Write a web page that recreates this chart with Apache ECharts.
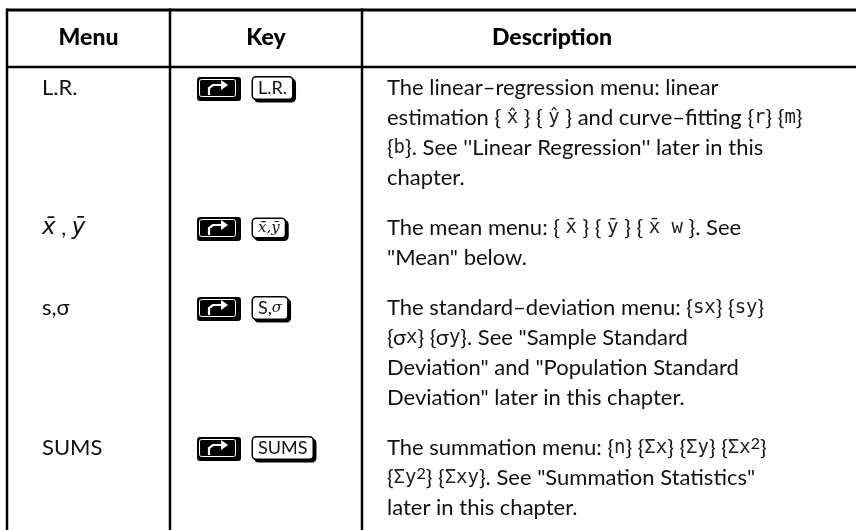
<!DOCTYPE html>
<html><head><meta charset="utf-8">
<script src="https://cdn.jsdelivr.net/npm/echarts@6/dist/echarts.min.js"></script>
<style>html,body{margin:0;padding:0;background:#fff}#c{width:856px;height:530px}</style>
</head><body><div id="c"></div>
<script>
// ---- data ----
const headers = ['Menu', 'Key', 'Description'];
const menus = ['L.R.', '*x\u0304* , *y\u0304*', 's,\u03c3', 'SUMS'];
const keyLabels = ['L.R.', '*x\u0304,y\u0304*', 'S,*\u03c3*', 'SUMS'];
const descriptions = [
  ['The linear\u2013regression menu: linear',
   'estimation { [x\u0302] } { [\u0177] } and curve\u2013fitting {[r]} {[m]}',
   "{[b]}. See ''Linear Regression'' later in this",
   'chapter.'],
  ['The mean menu: { [x\u0304] } { [y\u0304] } { [x\u0304 w] }. See',
   '"Mean" below.'],
  ['The standard\u2013deviation menu: {[sx]} {[sy]}',
   '{\u03c3[x]} {\u03c3[y]}. See "Sample Standard',
   'Deviation" and "Population Standard',
   'Deviation" later in this chapter.'],
  ['The summation menu: {[n]} {[\u03a3x]} {[\u03a3y]} {[\u03a3x]^2}',
   '{[\u03a3y]^2} {[\u03a3xy]}. See "Summation Statistics"',
   'later in this chapter.']
];

// ---- layout ----
const W = 856, H = 530;
const LINE = 30, GAP = 20, FIRST = 88;
const X_LEFT = 7, X_D1 = 170, X_D2 = 362;
const MENU_X = 42, SHIFT_X = 197, KEY_X = 253, DESC_X = 387;
const TOP_Y = 10, HEAD_Y = 38, HEAD_LINE_Y = 67;
const FONT = 'Lato, "Open Sans", sans-serif';
const FS = 22;

const rowY = [];
(function () { let y = FIRST; descriptions.forEach(d => { rowY.push(y); y += d.length * LINE + GAP; }); })();

function richify(s) {
  return s.replace(/\[([^\]]+)\]/g, '{g|$1}')
          .replace(/\^2/g, '{sup|2}')
          .replace(/\*([^*]+)\*/g, '{i|$1}');
}
const RICH = {
  g: { fontFamily: '"DejaVu Sans Mono", monospace', fontSize: 19, fill: '#222' },
  sup: { fontFamily: FONT, fontSize: 16, fill: '#111', padding: [0, 0, 9, 0] },
  i: { fontFamily: '"DejaVu Sans", sans-serif', fontStyle: 'italic', fontSize: 23, fill: '#111' }
};
const KEY_RICH = {
  i: { fontFamily: '"DejaVu Serif", serif', fontStyle: 'italic', fontSize: 15, fill: '#111' }
};

function renderItem(params, api) {
  const i = api.value(2);
  const y0 = api.value(1);
  const P = (x) => api.coord([x, y0]);
  const children = [];
  // menu cell
  const m = P(MENU_X);
  children.push({ type: 'text', x: m[0], y: m[1], style: {
    text: richify(menus[i]), rich: RICH, fontFamily: FONT, fontSize: FS, fill: '#111',
    textAlign: 'left', verticalAlign: 'middle' } });
  // shift key
  const s = P(SHIFT_X);
  const sx = s[0], sy = s[1];
  children.push({ type: 'rect', shape: { x: sx, y: sy - 11, width: 44, height: 24, r: 3 }, style: { fill: '#000' } });
  children.push({ type: 'rect', shape: { x: sx + 2.5, y: sy - 8.5, width: 36, height: 17, r: 2 }, style: { fill: 'none', stroke: '#fff', lineWidth: 1 } });
  children.push({ type: 'polyline', shape: { points: [[sx + 12, sy + 7], [sx + 12, sy], [sx + 16, sy - 3], [sx + 25, sy - 3]] },
    style: { stroke: '#fff', lineWidth: 2.2, fill: 'none' } });
  children.push({ type: 'polygon', shape: { points: [[sx + 24, sy - 8], [sx + 31, sy - 3], [sx + 24, sy + 2]] }, style: { fill: '#fff' } });
  // label key
  const k = P(KEY_X);
  children.push({ type: 'text', x: k[0], y: k[1], style: {
    text: richify(keyLabels[i]), rich: KEY_RICH, fontFamily: FONT, fontSize: 18, fill: '#111',
    textAlign: 'left', verticalAlign: 'middle',
    backgroundColor: '#fff', borderColor: '#000', borderWidth: 1.5, borderRadius: 3,
    padding: [2, 5, 1, 5], shadowColor: '#000', shadowOffsetX: 2.5, shadowOffsetY: 2.5, shadowBlur: 0 } });
  // description lines
  descriptions[i].forEach((line, j) => {
    const d = api.coord([DESC_X, y0 + j * LINE]);
    children.push({ type: 'text', x: d[0], y: d[1], style: {
      text: richify(line), rich: RICH, fontFamily: FONT, fontSize: FS, fill: '#111',
      textAlign: 'left', verticalAlign: 'middle' } });
  });
  return { type: 'group', children };
}

const rules = [
  { type: 'line', shape: { x1: X_LEFT, y1: TOP_Y, x2: W, y2: TOP_Y }, style: { stroke: '#000', lineWidth: 3 } },
  { type: 'line', shape: { x1: X_LEFT, y1: HEAD_LINE_Y, x2: W, y2: HEAD_LINE_Y }, style: { stroke: '#000', lineWidth: 2.5 } },
  ...[X_LEFT, X_D1, X_D2].map(x => ({ type: 'line', shape: { x1: x, y1: TOP_Y - 1.5, x2: x, y2: H }, style: { stroke: '#000', lineWidth: 2.5 } }))
];
const headCenters = [(X_LEFT + X_D1) / 2, (X_D1 + X_D2) / 2, 552];
const headTexts = headers.map((h, i) => ({ type: 'text', x: headCenters[i], y: HEAD_Y,
  style: { text: h, fontFamily: FONT, fontWeight: 900, fontSize: 23, fill: '#000', textAlign: 'center', verticalAlign: 'middle' } }));

const chart = echarts.init(document.getElementById('c'));
chart.setOption({
  animation: false,
  grid: { left: 0, right: 0, top: 0, bottom: 0 },
  xAxis: { type: 'value', min: 0, max: W, show: false },
  yAxis: { type: 'value', min: 0, max: H, inverse: true, show: false },
  graphic: { elements: rules.concat(headTexts) },
  series: [{
    type: 'custom', renderItem, clip: false,
    data: rowY.map((y, i) => [0, y, i])
  }]
});
</script></body></html>
